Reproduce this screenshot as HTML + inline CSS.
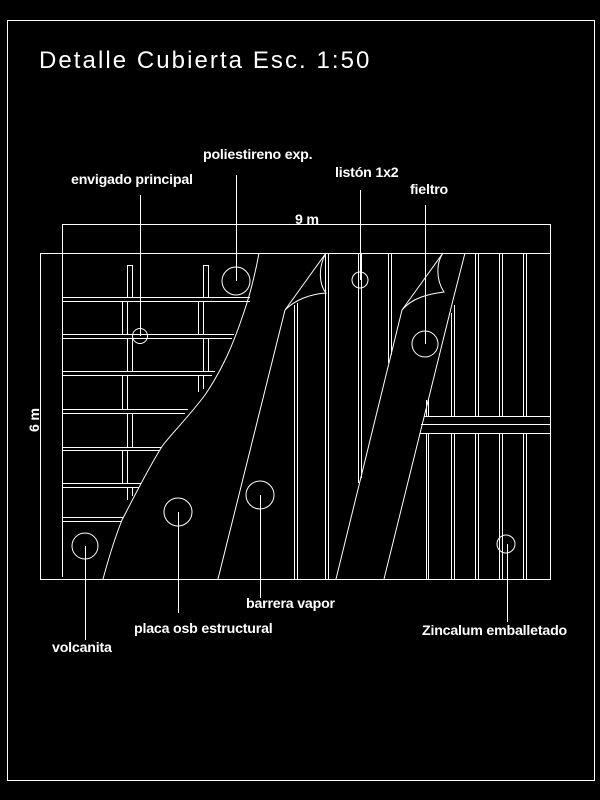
<!DOCTYPE html>
<html><head><meta charset="utf-8"><style>
html,body{margin:0;padding:0;background:#000;width:600px;height:800px;overflow:hidden}
svg{display:block}
.l{font-family:"Liberation Sans",Arial,sans-serif;font-size:14.2px;font-weight:bold;fill:#fff;letter-spacing:-0.2px}
</style></head><body>
<svg width="600" height="800" viewBox="0 0 600 800" xmlns="http://www.w3.org/2000/svg">
<rect width="600" height="800" fill="#000"/>
<g fill="none" stroke="#fff" stroke-width="1">
<rect x="7.5" y="20.5" width="587" height="760"/>
<rect x="62.5" y="224.5" width="488" height="29"/>
<line x1="62.5" y1="224" x2="62.5" y2="577"/>
<rect x="40.5" y="253.5" width="510" height="326"/>
<g>
<line x1="62" y1="297.5" x2="250" y2="297.5"/><line x1="62" y1="301.5" x2="250" y2="301.5"/>
<line x1="62" y1="334.5" x2="234" y2="334.5"/><line x1="62" y1="338.5" x2="232" y2="338.5"/>
<line x1="62" y1="371.5" x2="215" y2="371.5"/><line x1="62" y1="375.5" x2="212" y2="375.5"/>
<line x1="62" y1="409.5" x2="188" y2="409.5"/><line x1="62" y1="413.5" x2="185" y2="413.5"/>
<line x1="62" y1="447.5" x2="161" y2="447.5"/><line x1="62" y1="450.5" x2="159" y2="450.5"/>
<line x1="62" y1="483.5" x2="141" y2="483.5"/><line x1="62" y1="487.5" x2="139" y2="487.5"/>
<line x1="62" y1="517.5" x2="123" y2="517.5"/><line x1="62" y1="521.5" x2="121" y2="521.5"/>
</g>
<g>
<rect x="127.5" y="265.5" width="5" height="32"/><rect x="203.5" y="265.5" width="5" height="32"/>
<line x1="122.5" y1="302" x2="122.5" y2="334"/><line x1="127.5" y1="302" x2="127.5" y2="334"/>
<line x1="198.5" y1="302" x2="198.5" y2="334"/><line x1="203.5" y1="302" x2="203.5" y2="334"/>
<line x1="127.5" y1="339" x2="127.5" y2="371"/><line x1="132.5" y1="339" x2="132.5" y2="371"/>
<line x1="203.5" y1="339" x2="203.5" y2="371"/><line x1="208.5" y1="339" x2="208.5" y2="371"/>
<line x1="122.5" y1="376" x2="122.5" y2="409"/><line x1="127.5" y1="376" x2="127.5" y2="409"/>
<line x1="198.5" y1="376" x2="198.5" y2="392"/><line x1="203.5" y1="376" x2="203.5" y2="389"/>
<line x1="127.5" y1="414" x2="127.5" y2="447"/><line x1="132.5" y1="414" x2="132.5" y2="447"/>
<line x1="122.5" y1="451" x2="122.5" y2="483"/><line x1="127.5" y1="451" x2="127.5" y2="483"/>
<line x1="127.5" y1="488" x2="127.5" y2="500"/><line x1="132.5" y1="488" x2="132.5" y2="496"/>
</g>
<path d="M259,253 C255,275 250,295 243,315 C233,345 222,370 205,395 C190,415 175,430 163,445 C150,465 135,495 122,520 C112,545 107,565 103,579"/>
<line x1="326" y1="253" x2="285" y2="310"/>
<path d="M326,253 C319,265 318,283 326,293 C310,294 295,300 285,310"/>
<line x1="285" y1="310" x2="218" y2="579"/>
<line x1="294.5" y1="305" x2="294.5" y2="579"/><line x1="297.5" y1="303" x2="297.5" y2="579"/>
<line x1="325.5" y1="253" x2="325.5" y2="579"/><line x1="328.5" y1="253" x2="328.5" y2="579"/>
<line x1="358.5" y1="253" x2="358.5" y2="483"/><line x1="361.5" y1="253" x2="361.5" y2="478"/>
<line x1="388.5" y1="253" x2="388.5" y2="363"/><line x1="391.5" y1="253" x2="391.5" y2="355"/>
<line x1="443" y1="253" x2="402" y2="310"/>
<path d="M443,253 C436,263 436,280 444,292 C428,294 412,298 402,310"/>
<line x1="402" y1="310" x2="336" y2="579"/>
<path d="M465,253 L453,300 L384,579"/>
<line x1="426.5" y1="400" x2="426.5" y2="416"/><line x1="428.5" y1="400" x2="428.5" y2="416"/>
<line x1="426.5" y1="433" x2="426.5" y2="579"/><line x1="428.5" y1="433" x2="428.5" y2="579"/>
<line x1="451.5" y1="313" x2="451.5" y2="416"/><line x1="454.5" y1="305" x2="454.5" y2="416"/>
<line x1="451.5" y1="433" x2="451.5" y2="579"/><line x1="454.5" y1="433" x2="454.5" y2="579"/>
<line x1="475.5" y1="253" x2="475.5" y2="416"/><line x1="478.5" y1="253" x2="478.5" y2="416"/>
<line x1="475.5" y1="433" x2="475.5" y2="579"/><line x1="478.5" y1="433" x2="478.5" y2="579"/>
<line x1="499.5" y1="253" x2="499.5" y2="416"/><line x1="502.5" y1="253" x2="502.5" y2="416"/>
<line x1="499.5" y1="433" x2="499.5" y2="579"/><line x1="502.5" y1="433" x2="502.5" y2="579"/>
<line x1="523.5" y1="253" x2="523.5" y2="416"/><line x1="526.5" y1="253" x2="526.5" y2="416"/>
<line x1="523.5" y1="433" x2="523.5" y2="579"/><line x1="526.5" y1="433" x2="526.5" y2="579"/>
<line x1="424" y1="416.5" x2="550" y2="416.5"/>
<line x1="421" y1="424.5" x2="550" y2="424.5"/>
<line x1="420" y1="433.5" x2="550" y2="433.5"/>
<circle cx="236" cy="281" r="14"/>
<circle cx="140" cy="336" r="7.5"/>
<circle cx="178" cy="512" r="14"/>
<circle cx="260" cy="495" r="14"/>
<circle cx="85" cy="546" r="13"/>
<circle cx="360" cy="280" r="8"/>
<circle cx="425" cy="344" r="13"/>
<circle cx="506" cy="544" r="9"/>
<line x1="140.5" y1="195" x2="140.5" y2="336"/>
<line x1="236.5" y1="175" x2="236.5" y2="281"/>
<line x1="360.5" y1="190" x2="360.5" y2="280"/>
<line x1="425.5" y1="205" x2="425.5" y2="344"/>
<line x1="85.5" y1="546" x2="85.5" y2="640"/>
<line x1="178.5" y1="512" x2="178.5" y2="613"/>
<line x1="260.5" y1="495" x2="260.5" y2="598"/>
<line x1="507.5" y1="544" x2="507.5" y2="622"/>
</g>
<text x="39" y="68" fill="#fff" font-family="'Liberation Sans',sans-serif" font-size="24" font-weight="normal" letter-spacing="1.6" textLength="332">Detalle Cubierta Esc. 1:50</text>
<text class="l" x="203" y="159">poliestireno exp.</text>
<text class="l" x="71" y="184">envigado principal</text>
<text class="l" x="335" y="177">listón 1x2</text>
<text class="l" x="410" y="194">fieltro</text>
<text class="l" x="295" y="224">9 m</text>
<text class="l" x="0" y="0" transform="translate(39,432) rotate(-90)">6 m</text>
<text class="l" x="246" y="608">barrera vapor</text>
<text class="l" x="134" y="633">placa osb estructural</text>
<text class="l" x="422" y="635">Zincalum emballetado</text>
<text class="l" x="52" y="652">volcanita</text>
</svg>
</body></html>
